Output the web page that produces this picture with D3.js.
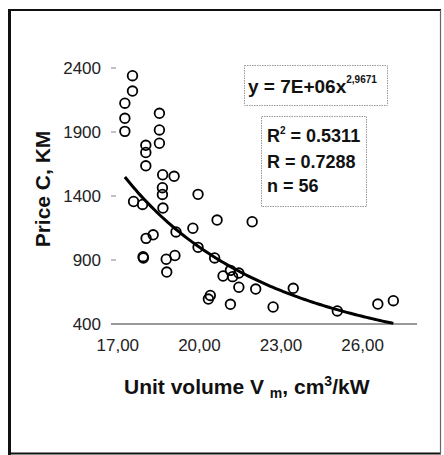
<!DOCTYPE html>
<html>
<head>
<meta charset="utf-8">
<script src="https://cdn.jsdelivr.net/npm/d3@7"></script>
<style>
  body { margin: 0; background: #fff; }
  svg { display: block; font-family: "Liberation Sans", Arial, sans-serif; }
</style>
</head>
<body>
<div id="chart"></div>
<script>
// unit volume, cm3/kW
const volume = [
  17.54, 17.54, 17.26, 17.26, 17.26, 18.53, 18.53, 18.53, 18.03, 18.03,
  18.03, 18.65, 19.07, 18.64, 18.64, 19.95, 17.58, 17.91, 18.66, 20.65,
  21.94, 18.04, 18.30, 19.14, 19.76, 19.95, 17.93, 17.94, 18.78, 19.10,
  18.80, 20.56, 20.87, 21.14, 21.22, 21.45, 21.45, 22.07, 20.40, 20.33,
  21.14, 22.71, 23.45, 25.07, 26.56, 27.13
]
// price C, KM
const price = [
  2340, 2220, 2125, 2007, 1905, 2046, 1916, 1812, 1796, 1740,
  1636, 1566, 1554, 1465, 1412, 1413, 1357, 1334, 1306, 1212,
  1199, 1069, 1097, 1119, 1148, 999, 926, 916, 906, 935,
  806, 916, 775, 819, 770, 798, 687, 673, 623, 595,
  554, 533, 679, 502, 556, 582
]

const xTicks = [17, 20, 23, 26]
const yTicks = [400, 900, 1400, 1900, 2400]

// power trend y = a * x^b
const fitA = 7.25e6
const fitB = -2.9671
const stats = ["0.5311", "0.7288", "56"]

const width = 444
const height = 455

const svg = d3.select("#chart").append("svg")
  .attr("width", width)
  .attr("height", height)

// outer frame: heavy top/left/bottom, light right edge
svg.append("line")
  .attr("x1", 9).attr("x2", 441)
  .attr("y1", 10).attr("y2", 10)
  .attr("stroke", "#111")
  .attr("stroke-width", 2)
svg.append("line")
  .attr("x1", 9).attr("x2", 441)
  .attr("y1", 453.5).attr("y2", 453.5)
  .attr("stroke", "#111")
  .attr("stroke-width", 2)
svg.append("line")
  .attr("x1", 9.5).attr("x2", 9.5)
  .attr("y1", 9).attr("y2", 455)
  .attr("stroke", "#111")
  .attr("stroke-width", 3)
svg.append("line")
  .attr("x1", 440.5).attr("x2", 440.5)
  .attr("y1", 10).attr("y2", 454)
  .attr("stroke", "#666")
  .attr("stroke-width", 1.2)

const x = d3.scaleLinear().domain([16.75, 28]).range([111, 417])
const y = d3.scaleLinear().domain([400, 2400]).range([324, 68])

// x axis line
svg.append("line")
  .attr("x1", x.range()[0]).attr("x2", x.range()[1])
  .attr("y1", y(400)).attr("y2", y(400))
  .attr("stroke", "#777")
  .attr("stroke-width", 1.3)

svg.append("g")
  .selectAll("text")
  .data(xTicks)
  .join("text")
  .attr("x", d => x(d))
  .attr("y", 351)
  .attr("text-anchor", "middle")
  .attr("font-size", 17)
  .attr("fill", "#222")
  .text(d => d.toFixed(2).replace(".", ","))

// y ticks and labels
const yg = svg.append("g")
yg.selectAll("line")
  .data(yTicks.slice(1))
  .join("line")
  .attr("x1", 111).attr("x2", 116)
  .attr("y1", d => y(d)).attr("y2", d => y(d))
  .attr("stroke", "#999")
  .attr("stroke-width", 1.2)
yg.selectAll("text")
  .data(yTicks)
  .join("text")
  .attr("x", 101)
  .attr("y", d => y(d) + 6)
  .attr("text-anchor", "end")
  .attr("font-size", 17)
  .attr("fill", "#222")
  .text(d => d)

// axis titles
const xt = svg.append("text")
  .attr("x", 124).attr("y", 394)
  .attr("font-size", 21)
  .attr("font-weight", "bold")
  .attr("fill", "#111")
xt.append("tspan").text("Unit volume V ")
xt.append("tspan").attr("font-size", 14).attr("dy", 4).text("m")
xt.append("tspan").attr("dy", -4).text(", cm")
xt.append("tspan").attr("font-size", 14).attr("dy", -8).text("3")
xt.append("tspan").attr("dy", 8).text("/kW")

svg.append("text")
  .attr("transform", "translate(50,189) rotate(-90)")
  .attr("text-anchor", "middle")
  .attr("font-size", 21)
  .attr("font-weight", "bold")
  .attr("fill", "#111")
  .text("Price C, KM")

// trend curve over the data range
const [x0, x1] = d3.extent(volume)
const curve = d3.range(0, 101).map(i => {
  const v = x0 + (x1 - x0) * i / 100
  return [v, fitA * Math.pow(v, fitB)]
})
svg.append("path")
  .datum(curve)
  .attr("fill", "none")
  .attr("stroke", "#000")
  .attr("stroke-width", 3)
  .attr("d", d3.line().x(d => x(d[0])).y(d => y(d[1])))

// data points
svg.append("g")
  .selectAll("circle")
  .data(volume.map((v, i) => [v, price[i]]))
  .join("circle")
  .attr("cx", d => x(d[0]))
  .attr("cy", d => y(d[1]))
  .attr("r", 4.8)
  .attr("fill", "none")
  .attr("stroke", "#000")
  .attr("stroke-width", 1.8)

// equation box
svg.append("rect")
  .attr("x", 244.5).attr("y", 65.5)
  .attr("width", 143).attr("height", 40)
  .attr("fill", "#fff")
  .attr("stroke", "#999")
  .attr("stroke-dasharray", "1.5,1")
const eq = svg.append("text")
  .attr("x", 248).attr("y", 93)
  .attr("font-size", 19)
  .attr("font-weight", "bold")
  .attr("fill", "#111")
eq.append("tspan").text("y = 7E+06x")
eq.append("tspan")
  .attr("font-size", 10)
  .attr("dy", -10)
  .text(d3.format(".4f")(-fitB).replace(".", ","))

// statistics box
svg.append("rect")
  .attr("x", 261.5).attr("y", 116.5)
  .attr("width", 105).attr("height", 90)
  .attr("fill", "#fff")
  .attr("stroke", "#999")
  .attr("stroke-dasharray", "1.5,1")
const st = svg.append("g")
  .attr("font-size", 18)
  .attr("font-weight", "bold")
  .attr("fill", "#111")
const r2 = st.append("text").attr("x", 267).attr("y", 142)
r2.append("tspan").text("R")
r2.append("tspan").attr("font-size", 10).attr("dy", -8).text("2")
r2.append("tspan").attr("dy", 8).text(" = " + stats[0])
st.append("text").attr("x", 267).attr("y", 168).text("R = " + stats[1])
st.append("text").attr("x", 267).attr("y", 192).text("n = " + stats[2])
</script>
</body>
</html>
